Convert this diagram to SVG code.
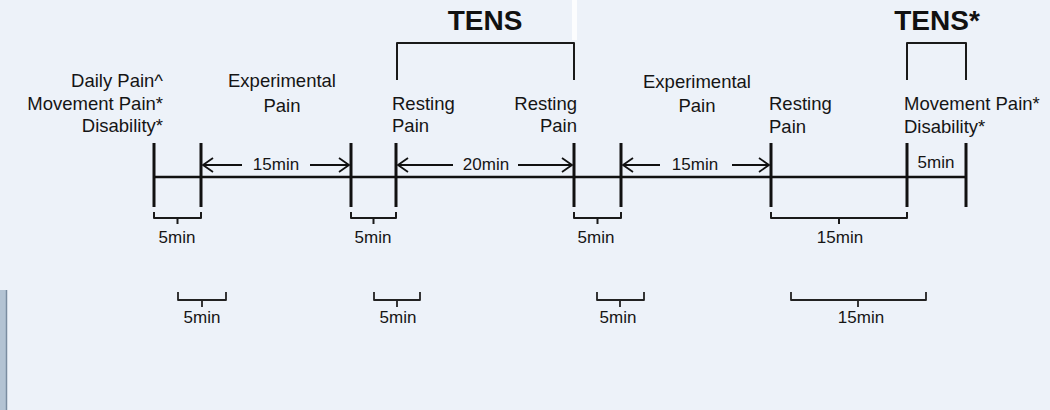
<svg xmlns="http://www.w3.org/2000/svg" width="1050" height="410" viewBox="0 0 1050 410">
<style>
.t{font-family:"Liberation Sans",Arial,sans-serif;font-size:18.5px;fill:#151515}
.s{font-family:"Liberation Sans",Arial,sans-serif;font-size:17px;fill:#151515}
.b{font-family:"Liberation Sans",Arial,sans-serif;font-size:28px;font-weight:bold;fill:#111}
.tick{stroke:#111;stroke-width:3;fill:none}
.ln{stroke:#111;stroke-width:2.5;fill:none}
.br{stroke:#1a1a1a;stroke-width:2;fill:none;stroke-linejoin:round}
.br2{stroke:#222;stroke-width:1.8;fill:none;stroke-linejoin:round}
.ar{stroke:#111;stroke-width:1.8;fill:none}
</style>
<rect width="1050" height="410" fill="#edf2f9"/>
<rect x="0" y="290" width="6" height="120" fill="#b3c3d3"/>
<line x1="6.5" y1="290" x2="6.5" y2="410" stroke="#7a8ca0" stroke-width="1.5"/>
<rect x="572" y="0" width="5" height="40" fill="#ffffff" opacity="0.8"/>

<g id="connectors">
  <line class="ln" x1="154" y1="177" x2="966" y2="177"/>
  <g id="ticks">
    <line class="tick" x1="154" y1="143" x2="154" y2="207"/>
    <line class="tick" x1="201" y1="143" x2="201" y2="207"/>
    <line class="tick" x1="351" y1="143" x2="351" y2="207"/>
    <line class="tick" x1="396" y1="143" x2="396" y2="207"/>
    <line class="tick" x1="574" y1="143" x2="574" y2="207"/>
    <line class="tick" x1="621" y1="143" x2="621" y2="207"/>
    <line class="tick" x1="771" y1="143" x2="771" y2="207"/>
    <line class="tick" x1="907" y1="143" x2="907" y2="207"/>
    <line class="tick" x1="966" y1="143" x2="966" y2="207"/>
  </g>
  <g id="tens-brackets">
    <path class="br" d="M397 80 V43 H574 V80"/>
    <path class="br" d="M907 80 V43 H966 V80"/>
  </g>
  <g id="arrows">
    <path class="ar" d="M203 165 H242 M213 158 L203 165 L213 172"/>
    <path class="ar" d="M310 165 H349 M339 158 L349 165 L339 172"/>
    <path class="ar" d="M398 165 H453 M408 158 L398 165 L408 172"/>
    <path class="ar" d="M518 165 H572 M562 158 L572 165 L562 172"/>
    <path class="ar" d="M623 165 H660 M633 158 L623 165 L633 172"/>
    <path class="ar" d="M732 165 H769 M759 158 L769 165 L759 172"/>
  </g>
  <g id="upper-braces">
    <path class="br" d="M154 212 V218 H201 V212 M177.5 218 V224"/>
    <path class="br" d="M351 212 V218 H396 V212 M373.5 218 V224"/>
    <path class="br" d="M574 212 V218 H621 V212 M597.5 218 V224"/>
    <path class="br" d="M771 212 V218 H907 V212 M839 218 V224"/>
  </g>
  <g id="lower-braces">
    <path class="br2" d="M178 292 V300 H226 V292 M202 300 V307"/>
    <path class="br2" d="M374 292 V300 H420 V292 M397 300 V307"/>
    <path class="br2" d="M597 292 V300 H644 V292 M620 300 V307"/>
    <path class="br2" d="M791 292 V300 H926 V292 M858 300 V307"/>
  </g>
</g>

<g id="baseline-measures">
  <text class="t" x="163" y="87" text-anchor="end">Daily Pain^</text>
  <text class="t" x="163" y="110" text-anchor="end">Movement Pain*</text>
  <text class="t" x="163" y="132" text-anchor="end">Disability*</text>
</g>
<g id="experimental-1">
  <text class="t" x="282" y="87" text-anchor="middle">Experimental</text>
  <text class="t" x="282" y="112" text-anchor="middle">Pain</text>
</g>
<g id="tens">
  <text class="b" x="485" y="30" text-anchor="middle">TENS</text>
</g>
<g id="resting-1">
  <text class="t" x="392" y="110">Resting</text>
  <text class="t" x="392" y="132">Pain</text>
</g>
<g id="resting-2">
  <text class="t" x="577" y="110" text-anchor="end">Resting</text>
  <text class="t" x="577" y="132" text-anchor="end">Pain</text>
</g>
<g id="experimental-2">
  <text class="t" x="697" y="88" text-anchor="middle">Experimental</text>
  <text class="t" x="697" y="112" text-anchor="middle">Pain</text>
</g>
<g id="resting-3">
  <text class="t" x="769" y="110">Resting</text>
  <text class="t" x="769" y="133">Pain</text>
</g>
<g id="tens-star">
  <text class="b" x="937" y="30" text-anchor="middle">TENS*</text>
</g>
<g id="final-measures">
  <text class="t" x="904" y="110">Movement Pain*</text>
  <text class="t" x="904" y="133">Disability*</text>
</g>
<g id="interval-labels">
  <text class="s" x="276" y="170" text-anchor="middle">15min</text>
  <text class="s" x="486" y="170" text-anchor="middle">20min</text>
  <text class="s" x="695" y="170" text-anchor="middle">15min</text>
  <text class="s" x="936" y="168" text-anchor="middle">5min</text>
  <text class="s" x="177" y="243" text-anchor="middle">5min</text>
  <text class="s" x="373" y="243" text-anchor="middle">5min</text>
  <text class="s" x="596" y="243" text-anchor="middle">5min</text>
  <text class="s" x="840" y="243" text-anchor="middle">15min</text>
  <text class="s" x="202" y="323" text-anchor="middle">5min</text>
  <text class="s" x="398" y="323" text-anchor="middle">5min</text>
  <text class="s" x="618" y="323" text-anchor="middle">5min</text>
  <text class="s" x="861" y="323" text-anchor="middle">15min</text>
</g>
</svg>
